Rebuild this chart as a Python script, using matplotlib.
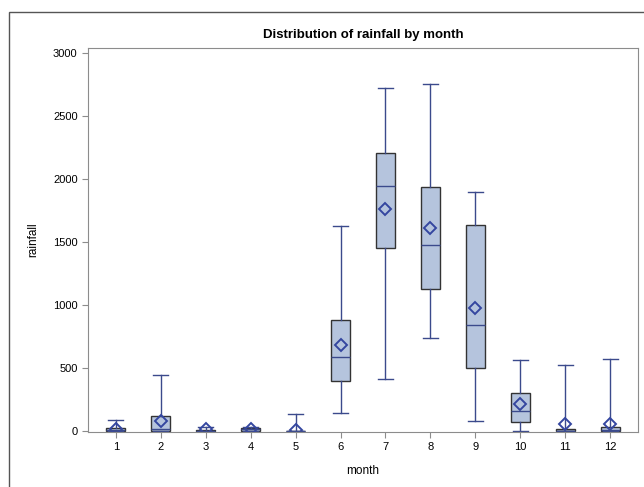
import matplotlib.pyplot as plt
from matplotlib.patches import Rectangle

plt.rcParams['font.family'] = ['Liberation Sans', 'DejaVu Sans']

months = [1, 2, 3, 4, 5, 6, 7, 8, 9, 10, 11, 12]
whislo = [0, 0, 0, 0, 0, 145, 410, 735, 80, 0, 0, 0]
q1 = [0, 0, 0, 0, 0, 395, 1450, 1130, 500, 71, 0, 0]
med = [5, 15, 2, 12, 1, 590, 1945, 1475, 840, 159, 3, 10]
q3 = [26, 121, 10, 25, 3, 880, 2205, 1937, 1635, 302, 15, 35]
whishi = [87, 447, 35, 35, 135, 1625, 2726, 2757, 1895, 565, 524, 575]
means = [15, 79, 12, 15, 5, 680, 1762, 1610, 975, 214, 56, 56]

stats = []
for i in range(len(months)):
    stats.append({'whislo': whislo[i], 'q1': q1[i], 'med': med[i], 'q3': q3[i],
                  'whishi': whishi[i], 'fliers': [], 'label': str(months[i])})

fig = plt.figure(figsize=(6.44, 4.87), dpi=100)
ax = fig.add_axes([88 / 644, 1 - 432 / 487, (638 - 88) / 644, (432 - 48) / 487])

# outer frame like SAS output
fig.patches.append(Rectangle((9 / 644, -0.1), 1.2, 1 - 12 / 487 + 0.1, transform=fig.transFigure,
                             fill=False, edgecolor='#555555', linewidth=1.0))

line_col = '#3b4a8c'
ax.bxp(stats, positions=months, widths=0.42, patch_artist=True, showfliers=False,
       boxprops=dict(facecolor='#b5c4dd', edgecolor='#333333', linewidth=1.0),
       medianprops=dict(color=line_col, linewidth=1.0),
       whiskerprops=dict(color=line_col, linewidth=1.0),
       capprops=dict(color=line_col, linewidth=1.0),
       capwidths=0.33)
ax.plot(months, means, linestyle='none', marker='D', markersize=6.5,
        markerfacecolor='none', markeredgecolor='#3446a0', markeredgewidth=1.4)

ax.set_xlim(0.38, 12.62)
ax.set_ylim(-8, 3040)
ax.set_yticks([0, 500, 1000, 1500, 2000, 2500, 3000])
ax.set_xticks(months)
ax.set_xticklabels([str(m) for m in months])
for s in ax.spines.values():
    s.set_color('#8c8c8c')
ax.tick_params(colors='#8c8c8c', labelcolor='black', labelsize=8, length=4)
ax.set_xlabel('month', fontsize=8.5, labelpad=9)
ax.set_ylabel('rainfall', fontsize=8.5, labelpad=10)
ax.set_title('Distribution of rainfall by month', fontsize=9.5, fontweight='bold', pad=7)

fig.savefig('out.png', dpi=100)
